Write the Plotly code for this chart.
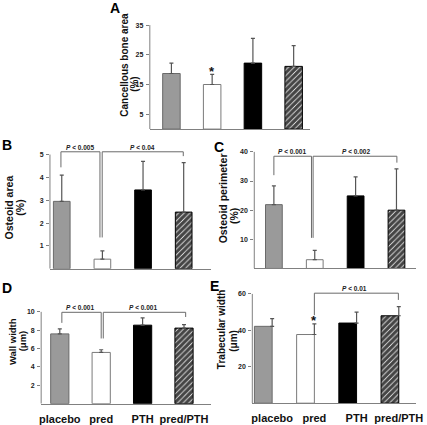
import plotly.graph_objects as go

W, H = 427, 425

categories = ["placebo", "pred", "PTH", "pred/PTH"]

# Panel A - cancellous bone area (%)
cancellous_mean = [18.7, 15.0, 22.2, 21.1]
cancellous_sd = [3.5, 3.4, 8.3, 7.0]
# Panel B - osteoid area (%)
osteoid_area_mean = [2.95, 0.42, 3.45, 2.48]
osteoid_area_sd = [1.15, 0.36, 1.25, 2.17]
# Panel C - osteoid perimeter (%)
osteoid_perim_mean = [21.9, 3.0, 24.9, 20.0]
osteoid_perim_sd = [6.4, 3.2, 6.5, 14.2]
# Panel D - wall width (um)
wall_width_mean = [7.6, 5.58, 8.55, 8.23]
wall_width_sd = [0.55, 0.29, 0.8, 0.37]
# Panel E - trabecular width (um)
trab_width_mean = [42.2, 37.7, 44.0, 48.0]
trab_width_sd = [4.2, 5.8, 6.0, 5.0]

ticks_A = [5, 15, 25, 35]
ticks_B = [1, 2, 3, 4, 5]
ticks_C = [10, 20, 30, 40]
ticks_D = [2, 4, 6, 8, 10]
ticks_E = [20, 40, 60]

# significance brackets: (x_left, x_right, y_top, y_left_bottom, y_right_bottom)
brackets_B = [(-0.02, 0.94, 5.12, 4.44, 1.37), (0.995, 2.99, 5.12, 1.37, 4.93)]
plabels_B = [("P", "< 0.005", 0.44), ("P", "< 0.04", 1.98)]
brackets_C = [(0.0, 0.92, 38.5, 32.0, 10.5), (0.96, 3.01, 38.5, 10.5, 36.3)]
plabels_C = [("P", "< 0.001", 0.44), ("P", "< 0.002", 2.01)]
brackets_D = [(0.05, 1.0, 9.95, 8.8, 7.1), (1.05, 3.04, 9.95, 7.1, 9.44)]
plabels_D = [("P", "< 0.001", 0.5), ("P", "< 0.001", 2.0)]
brackets_E = [(1.0, 2.99, 60.4, 48.3, 56.7)]
plabels_E = [("P", "< 0.01", 1.95)]

stars_A = [(1, 20.4)]
stars_E = [(1, 46.8)]

FONT = "Liberation Sans Narrow, Arial Narrow, Liberation Sans, Arial, sans-serif"
FONT_REG = "Liberation Sans, Arial, sans-serif"

fill_colors = ["#9a9a9a", "#ffffff", "#000000", "#ffffff"]
edge_colors = ["#6a6a6a", "#7a7a7a", "#000000", "#000000"]
pattern_shapes = ["", "", "", "/"]
AXC = "#808080"
BRC = "#6a6a6a"

panels = [
    dict(key="A", mean=cancellous_mean, sd=cancellous_sd, ticks=ticks_A, top=35,
         base_px=129.3, top_px=24.3, xl=151, xr=315, xrange=[-0.53, 3.41], ymax=36,
         bw=0.43, brackets=[], plabels=[], stars=stars_A, shift=False, labels=False,
         letter=(115.5, 7), tsize=10,
         title=[("Cancellous bone area", 125, 64), ("(%)", 136, 83.5)]),
    dict(key="B", mean=osteoid_area_mean, sd=osteoid_area_sd, ticks=ticks_B, top=5,
         base_px=270.3, top_px=155, xl=49, xr=213, xrange=[-0.29, 3.66], ymax=5.6,
         bw=0.41, brackets=brackets_B, plabels=plabels_B, stars=[], shift=False, labels=False,
         letter=(5, 145), tsize=10.5,
         title=[("Osteoid area", 7, 208.5), ("(%)", 17.5, 208.5)]),
    dict(key="C", mean=osteoid_perim_mean, sd=osteoid_perim_sd, ticks=ticks_C, top=40,
         base_px=270, top_px=152.3, xl=257.7, xr=423, xrange=[-0.48, 3.48], ymax=42,
         bw=0.41, brackets=brackets_C, plabels=plabels_C, stars=[], shift=False, labels=False,
         letter=(222, 147), tsize=10.5,
         title=[("Osteoid perimeter", 225.5, 199.5), ("(%)", 237, 217)]),
    dict(key="D", mean=wall_width_mean, sd=wall_width_sd, ticks=ticks_D, top=10,
         base_px=406.5, top_px=313.8, xl=40, xr=213, xrange=[-0.45, 3.64], ymax=10.8,
         bw=0.44, brackets=brackets_D, plabels=plabels_D, stars=[], shift=False, labels=True,
         letter=(5, 289.5), tsize=9.5,
         title=[("Wall width", 10.5, 344), ("(μm)", 21, 343)]),
    dict(key="E", mean=trab_width_mean, sd=trab_width_sd, ticks=ticks_E, top=60,
         base_px=406, top_px=295.7, xl=255.7, xr=423, xrange=[-0.47, 3.41], ymax=63,
         bw=0.42, brackets=brackets_E, plabels=plabels_E, stars=stars_E, shift=True, labels=True,
         letter=(217, 287.5), tsize=10,
         title=[("Trabecular width", 225, 332), ("(μm)", 237, 343)]),
]

fig = go.Figure()
shapes = []
annotations = []
layout = {}

for i, p in enumerate(panels, start=1):
    xa = "x" if i == 1 else f"x{i}"
    ya = "y" if i == 1 else f"y{i}"
    xname = "xaxis" if i == 1 else f"xaxis{i}"
    yname = "yaxis" if i == 1 else f"yaxis{i}"
    ppu = (p["base_px"] - p["top_px"]) / p["top"]
    top_range_px = p["base_px"] - p["ymax"] * ppu
    ydom = [1 - p["base_px"] / H, 1 - top_range_px / H]
    xdom = [p["xl"] / W, p["xr"] / W]

    err = dict(type="data", symmetric=False, array=p["sd"], arrayminus=[0] * 4,
               color="#555555", thickness=1.2, width=2)
    bar = go.Bar(
        x=categories, y=p["mean"], xaxis=xa, yaxis=ya, width=p["bw"],
        marker=dict(color=fill_colors, line=dict(color=edge_colors, width=1),
                    pattern=dict(shape=pattern_shapes, fgcolor=["#000000"] * 4,
                                 bgcolor=["#ffffff"] * 4, fgopacity=1,
                                 size=4, solidity=0.8)),
        showlegend=False, hoverinfo="skip",
    )
    if p["shift"]:
        bar.offset = -p["bw"]
        fig.add_trace(bar)
        fig.add_trace(go.Scatter(x=categories, y=p["mean"], xaxis=xa, yaxis=ya, mode="markers",
                                 marker=dict(size=1, opacity=0), error_y=err,
                                 showlegend=False, hoverinfo="skip"))
    else:
        bar.error_y = err
        fig.add_trace(bar)

    layout[xname] = dict(domain=xdom, anchor=ya, type="category", range=p["xrange"],
                         categoryorder="array", categoryarray=categories,
                         showline=True, linecolor=AXC, linewidth=1, ticks="",
                         showgrid=False, zeroline=False, showticklabels=p["labels"],
                         ticklabelstandoff=5,
                         tickfont=dict(family=FONT, size=11, color="#111111", weight="bold"))
    layout[yname] = dict(domain=ydom, anchor=xa, range=[0, p["ymax"]], tickvals=p["ticks"],
                         ticks="outside", ticklen=3, tickcolor=AXC, tickwidth=1,
                         showline=False, showgrid=False, zeroline=False,
                         ticklabelstandoff=1,
                         tickfont=dict(family=FONT_REG, size=7, color="#222222", weight="bold"))
    # y-axis line up to top tick
    shapes.append(dict(type="line", xref="paper", yref=ya, x0=xdom[0], x1=xdom[0],
                       y0=0, y1=p["top"], line=dict(color=AXC, width=1)))
    # brackets
    for (x0, x1, yt, yb0, yb1) in p["brackets"]:
        shapes.append(dict(type="path", xref=xa, yref=ya,
                           path=f"M {x0},{yb0} L {x0},{yt} L {x1},{yt} L {x1},{yb1}",
                           line=dict(color=BRC, width=1)))
    for (pl, rest, lx) in p["plabels"]:
        yt = p["brackets"][0][2]
        annotations.append(dict(xref=xa, yref=ya, x=lx, y=yt, yanchor="bottom",
                                text=f"<i>{pl}</i> {rest.replace('<', '&lt;')}",
                                showarrow=False, yshift=-1,
                                font=dict(family=FONT_REG, size=6.5, color="#222222", weight="bold")))
    for (sx, sy) in p["stars"]:
        annotations.append(dict(xref=xa, yref=ya, x=sx, y=sy, text="*", showarrow=False,
                                yanchor="middle", yshift=-3,
                                font=dict(family=FONT_REG, size=13, color="#111111", weight="bold")))
    # panel letter
    lx, ly = p["letter"]
    annotations.append(dict(xref="paper", yref="paper", x=lx / W, y=1 - ly / H, text=p["key"],
                            showarrow=False, xanchor="center", yanchor="middle",
                            font=dict(family=FONT_REG, size=14, color="#000000", weight="bold")))
    # y titles
    for (t, tx, ty) in p["title"]:
        annotations.append(dict(xref="paper", yref="paper", x=tx / W, y=1 - ty / H, text=t,
                                textangle=-90, showarrow=False, xanchor="center", yanchor="middle",
                                font=dict(family=FONT, size=p["tsize"], color="#111111",
                                          weight="bold")))

fig.update_layout(
    width=W, height=H, margin=dict(l=0, r=0, t=0, b=0),
    paper_bgcolor="white", plot_bgcolor="white",
    barmode="overlay", shapes=shapes, annotations=annotations,
    **layout,
)

fig.write_html("out.html", config={"displayModeBar": False},
               post_script="document.body.style.margin='0px';")
